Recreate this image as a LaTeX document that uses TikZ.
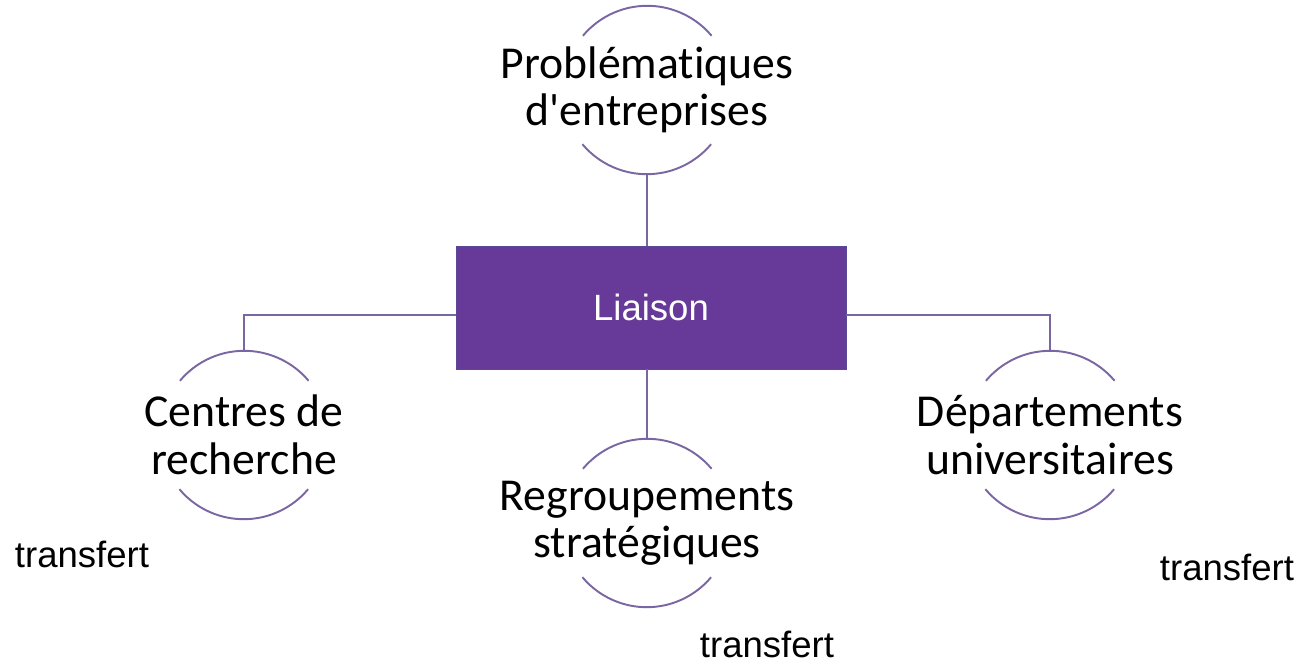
\documentclass[tikz,border=0pt]{standalone}
\usepackage{fontspec}
\setmainfont{Carlito}[Ligatures=NoCommon]
\newfontfamily\arialfont{Liberation Sans}
\usepackage{xcolor}
\definecolor{LIAISONCOLOR}{RGB}{103,58,154}
\definecolor{BORDERCOLOR}{RGB}{88,72,150}
\definecolor{LINECOLOR}{RGB}{122,102,162}
\usetikzlibrary{positioning,calc}
\tikzset{
  liaison-style/.style = {
    rectangle, draw=BORDERCOLOR, fill=LIAISONCOLOR, text=white,
    minimum width=7.8cm,
    minimum height=2.46cm,
    inner sep=0pt,
    font=\arialfont\fontsize{20.8}{25}\selectfont
  },
  ring-style/.style = {
    circle, minimum size=3.36cm, inner sep=0pt
  },
  partner-style/.style = {
    align=center, inner sep=0pt,
    font=\fontsize{26}{27}\selectfont
  },
  transfer-style/.style = {
    anchor=base, inner sep=0pt,
    font=\arialfont\fontsize{20.8}{25}\selectfont
  },
  link-style/.style = {
    draw=LINECOLOR, line width=1.1pt
  }
}
\newlength\ringRadius
\setlength\ringRadius{1.68cm}
\def\createPartner name:#1 display:#2 at:#3;{
  \node [ring-style] (#1-ring) at (#3) {};
  \node [partner-style] (#1) at (#3) {#2};
  \draw [link-style] (#1-ring.40) arc[start angle=40, end angle=140, radius=\ringRadius];
  \draw [link-style] (#1-ring.220) arc[start angle=220, end angle=320, radius=\ringRadius];
}

\begin{document}
\begin{tikzpicture}[x=0.02cm, y=0.02cm]
    \useasboundingbox (0,0) rectangle (1310,663);

    \node [liaison-style] (liaison) at (651,355.5) {Liaison};

    \createPartner name:probleme display:{Problématiques\\d\textquotesingle entreprises} at:{647,573};
    \createPartner name:centres display:{Centres de\\recherche} at:{244,228};
    \createPartner name:departements display:{Départements\\universitaires} at:{1050,228};
    \createPartner name:regroupements display:{Regroupements\\stratégiques} at:{647,140};

    % liens vers la liaison
    \draw [link-style] (probleme-ring.south) -- (probleme-ring.south |- liaison.north);
    \draw [link-style] ([yshift=-0.15cm]liaison.west) -| (centres-ring.north);
    \draw [link-style] ([yshift=-0.15cm]liaison.east) -| (departements-ring.north);
    \draw [link-style] (regroupements-ring.north |- liaison.south) -- (regroupements-ring.north);

    \node [transfer-style] (transfert-centres) at (82,96) {transfert};
    \node [transfer-style] (transfert-departements) at (1227,83) {transfert};
    \node [transfer-style] (transfert-regroupements) at (767,6) {transfert};
\end{tikzpicture}
\end{document}
